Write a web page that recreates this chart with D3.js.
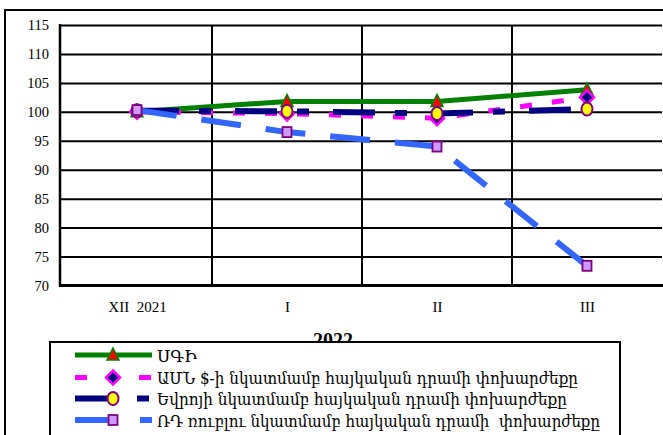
<!DOCTYPE html>
<html><head><meta charset="utf-8">
<script src="https://cdn.jsdelivr.net/npm/d3@7"></script>
<style>body{margin:0;background:#fff}svg{display:block}</style>
</head><body>
<svg id="c" width="663" height="435"></svg>
<script>
const categories = ["XII  2021", "I", "II", "III"];
const yTicks = [70, 75, 80, 85, 90, 95, 100, 105, 110, 115];
const cpi = [100.0, 101.8, 101.8, 103.8];
const usd = [100.0, 99.7, 98.9, 102.5];
const eur = [100.2, 100.1, 99.7, 100.5];
const rub = [100.3, 96.5, 94.0, 73.4];
const seriesNames = [
  "ՍԳԻ",
  "ԱՄՆ $-ի նկատմամբ հայկական դրամի փոխարժեքը",
  "Եվրոյի նկատմամբ հայկական դրամի փոխարժեքը",
  "ՌԴ ռուբլու նկատմամբ հայկական դրամի  փոխարժեքը"
];
const yearLabel = "2022";

const svg = d3.select("#c");
const L = 60, R = 662, T = 25, B = 285.5;
const x = d3.scalePoint().domain(categories).range([62, R]).padding(0.5);
const y = d3.scaleLinear().domain([70, 115]).range([B, T]);
const step = x.step();

// outer frame
svg.append("rect").attr("x", 5).attr("y", 10).attr("width", 700).attr("height", 500)
  .attr("fill", "#fff").attr("stroke", "#000").attr("stroke-width", 2);

// horizontal gridlines
svg.append("g").attr("transform", `translate(${L},0)`)
  .call(d3.axisLeft(y).tickValues(yTicks).tickSize(-(R - L)).tickFormat(""))
  .call(g => g.select(".domain").remove())
  .call(g => g.selectAll("line").attr("stroke", "#000").attr("stroke-width", 2));

// vertical gridlines at category boundaries
const bounds = categories.slice(1).map(c => x(c) - step / 2);
svg.append("g").selectAll("line").data(bounds).join("line")
  .attr("x1", d => d).attr("x2", d => d).attr("y1", T).attr("y2", B)
  .attr("stroke", "#000").attr("stroke-width", 2);

// axis lines
svg.append("line").attr("x1", L).attr("x2", L).attr("y1", T - 1).attr("y2", B + 1.5)
  .attr("stroke", "#000").attr("stroke-width", 2.5);
svg.append("line").attr("x1", L).attr("x2", R + 5).attr("y1", B).attr("y2", B)
  .attr("stroke", "#000").attr("stroke-width", 3);

// y labels
svg.append("g").attr("transform", `translate(${L},0)`)
  .call(d3.axisLeft(y).tickValues(yTicks).tickSize(0).tickPadding(11))
  .call(g => g.select(".domain").remove())
  .call(g => g.selectAll("text").attr("font-family", "Liberation Serif, Times New Roman, serif")
    .attr("font-size", 14.5).attr("fill", "#000"));

// x labels
svg.append("g").attr("transform", `translate(0,${B})`)
  .call(d3.axisBottom(x).tickSize(0).tickPadding(16))
  .call(g => g.select(".domain").remove())
  .call(g => g.selectAll("text").attr("font-family", "Liberation Serif, Times New Roman, serif")
    .attr("font-size", 15).attr("fill", "#000").style("white-space", "pre"));

// series
const series = [
  {name: seriesNames[0], data: cpi, color: "#008000", width: 5, dash: null, marker: "tri"},
  {name: seriesNames[1], data: usd, color: "#FF00FF", width: 5, dash: "12,20", marker: "dia"},
  {name: seriesNames[2], data: eur, color: "#000080", width: 6, dash: "42,20,12,24", marker: "circ"},
  {name: seriesNames[3], data: rub, color: "#3366FF", width: 6, dash: "40,25", marker: "sq"}
];

function drawMarker(g, type, cx, cy) {
  if (type === "tri") {
    g.append("path").attr("d", `M${cx},${cy - 7}L${cx + 6},${cy + 5}L${cx - 6},${cy + 5}Z`)
      .attr("fill", "#FF0000").attr("stroke", "#008000").attr("stroke-width", 1.5);
  } else if (type === "dia") {
    g.append("path").attr("d", `M${cx},${cy - 7}L${cx + 7},${cy}L${cx},${cy + 7}L${cx - 7},${cy}Z`)
      .attr("fill", "#000080").attr("stroke", "#FF00FF").attr("stroke-width", 2.5);
  } else if (type === "circ") {
    g.append("ellipse").attr("cx", cx).attr("cy", cy).attr("rx", 5.5).attr("ry", 6.5)
      .attr("fill", "#FFFF00").attr("stroke", "#800080").attr("stroke-width", 2);
  } else {
    g.append("rect").attr("x", cx - 4.5).attr("y", cy - 5).attr("width", 9).attr("height", 10)
      .attr("fill", "#CC99FF").attr("stroke", "#800080").attr("stroke-width", 1.8);
  }
}

const line = d3.line().x((d, i) => x(categories[i])).y(d => y(d));
series.forEach(s => {
  const g = svg.append("g");
  g.append("path").datum(s.data).attr("d", line).attr("fill", "none")
    .attr("stroke", s.color).attr("stroke-width", s.width)
    .attr("stroke-dasharray", s.dash);
  s.data.forEach((v, i) => drawMarker(g, s.marker, x(categories[i]), y(v)));
});

// year label (partly hidden by legend)
svg.append("text").attr("x", 333).attr("y", 347).attr("text-anchor", "middle")
  .attr("font-family", "Liberation Serif, Times New Roman, serif").attr("font-weight", "bold")
  .attr("font-size", 20).text(yearLabel);

// legend
svg.append("rect").attr("x", 50).attr("y", 342).attr("width", 570).attr("height", 120)
  .attr("fill", "#fff").attr("stroke", "#000").attr("stroke-width", 2);
const rowY = [355, 377.5, 398.5, 420];
const textW = [40, 421, 410, 443];
series.forEach((s, i) => {
  const g = svg.append("g");
  g.append("line").attr("x1", 75).attr("x2", 152).attr("y1", rowY[i]).attr("y2", rowY[i])
    .attr("stroke", s.color).attr("stroke-width", s.width).attr("stroke-dasharray", s.dash);
  drawMarker(g, s.marker, 113, rowY[i]);
  g.append("text").attr("x", 157).attr("y", rowY[i] + 6.5)
    .attr("font-family", "DejaVu Serif, Noto Serif, serif").attr("font-size", 16.5)
    .attr("textLength", textW[i]).attr("lengthAdjust", "spacingAndGlyphs")
    .style("white-space", "pre").text(s.name);
});
</script>
</body></html>
